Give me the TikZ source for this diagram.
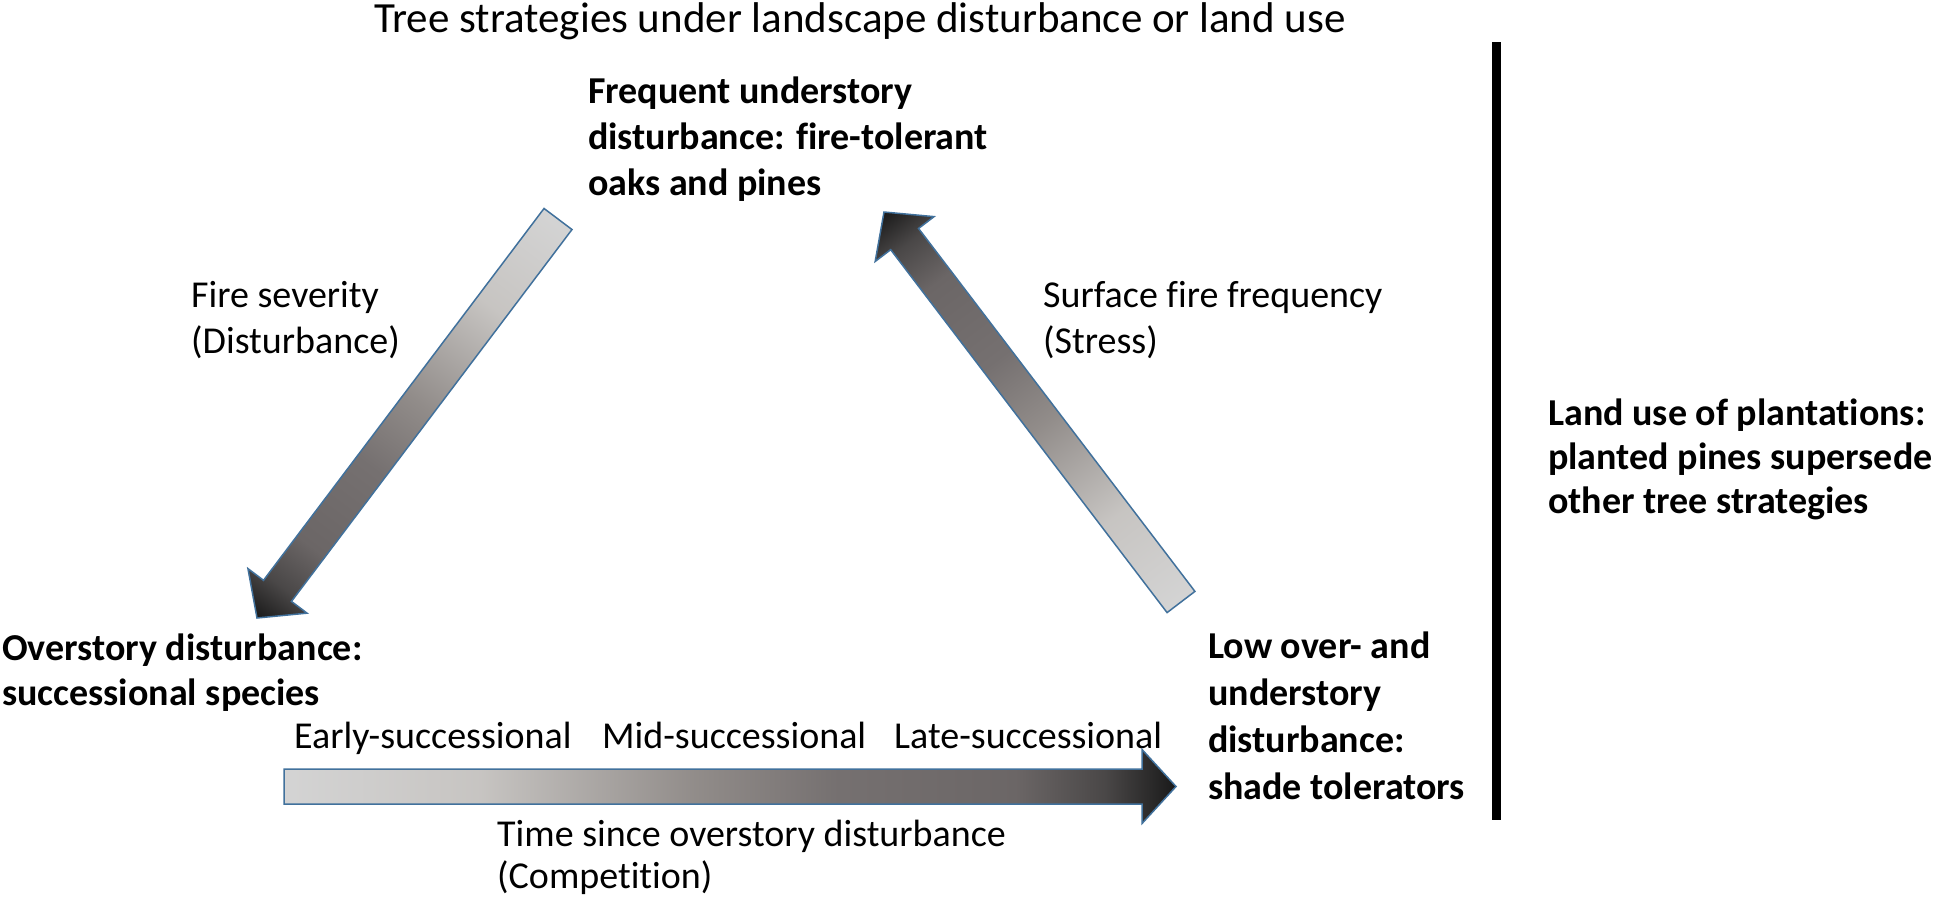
\documentclass[tikz,border=0pt]{standalone}
\usepackage{fontspec}
\setmainfont{Carlito}[Ligatures=NoCommon]
\usetikzlibrary{calc}
\definecolor{arrowblue}{HTML}{41719C}
\pgfdeclarehorizontalshading{arrowgrad}{100bp}{rgb(0bp)=(0.83,0.83,0.83); rgb(25bp)=(0.83,0.83,0.83); rgb(36bp)=(0.78,0.77,0.76); rgb(48bp)=(0.57,0.55,0.54); rgb(56bp)=(0.46,0.44,0.44); rgb(66bp)=(0.42,0.40,0.40); rgb(71bp)=(0.29,0.28,0.28); rgb(75bp)=(0.10,0.10,0.10); rgb(100bp)=(0.10,0.10,0.10)}
\newcommand\mlines[1]{\begin{tabular}[t]{@{}l@{}}#1\end{tabular}}
\makeatletter
\newcommand\blockarrow[2]{%
  \pgfpointdiff{\pgfpointanchor{#1}{center}}{\pgfpointanchor{#2}{center}}%
  \edef\ba@x{\strip@pt\pgf@x}\edef\ba@y{\strip@pt\pgf@y}%
  \pgfmathsetmacro\ba@len{veclen(\ba@x,\ba@y)}%
  \pgfmathsetmacro\ba@ang{atan2(\ba@y,\ba@x)}%
  \begin{scope}[transform canvas={shift={(#1)},rotate=\ba@ang}]
    \path[blockarrowstyle] (0pt,17.5pt) -- ({\ba@len pt-34pt},17.5pt) -- ({\ba@len pt-34pt},37pt)
      -- ({\ba@len pt},0pt) -- ({\ba@len pt-34pt},-37pt) -- ({\ba@len pt-34pt},-17.5pt)
      -- (0pt,-17.5pt) -- cycle;
  \end{scope}}
\makeatother
\tikzset{
  blockarrowstyle/.style={draw=arrowblue, line width=1.5pt, line join=miter, shade, shading=arrowgrad},
  titletext/.style={inner sep=0pt, anchor=base, font=\fontsize{43}{50}\selectfont},
  plain/.style={inner sep=0pt, anchor=base west, font=\fontsize{38}{#1}\selectfont},
  plain/.default=46,
  boldtext/.style={inner sep=0pt, anchor=base west, font=\fontsize{38}{#1}\selectfont\bfseries},
  boldtext/.default=46,
  bar/.style={line width=9pt}
}
\begin{document}
\begin{tikzpicture}[x=1pt,y=-1pt]
\useasboundingbox[fill=white] (0,0) rectangle (1946,897);
% text
\node[titletext] (title) at (860,32) {Tree strategies under landscape disturbance or land use};
\node[boldtext=46] (fire) at (588,103) {\mlines{Frequent understory\\disturbance: fire-tolerant\\oaks and pines}};
\node[boldtext=45] (over) at (2,660) {\mlines{Overstory disturbance:\\successional species}};
\node[boldtext=47] (low) at (1208,658) {\mlines{Low over- and\\understory\\disturbance:\\shade tolerators}};
\node[boldtext=44] (land) at (1548,425) {\mlines{Land use of plantations:\\planted pines supersede\\other tree strategies}};
\node[plain=46] (sev) at (191,307) {\mlines{Fire severity\\(Disturbance)}};
\node[plain=46] (surf) at (1043,307) {\mlines{Surface fire frequency\\(Stress)}};
\node[plain] (early) at (294,748) {Early-successional};
\node[plain] (mid) at (602,748) {Mid-successional};
\node[plain] (late) at (894,748) {Late-successional};
\node[plain=42] (time) at (497,846) {\mlines{Time since overstory disturbance\\(Competition)}};
% arrow end points
\coordinate (a1tail) at (558,219);
\coordinate (a1tip) at (257,618);
\coordinate (a2tail) at (1181,602);
\coordinate (a2tip) at (884,212);
\coordinate (a3tail) at (284,786.5);
\coordinate (a3tip) at (1176,786.5);
\blockarrow{a1tail}{a1tip}
\blockarrow{a2tail}{a2tip}
\blockarrow{a3tail}{a3tip}
% separator bar
\coordinate (bartop) at (1496,42);
\coordinate (barbot) at (1496,820);
\draw[bar] (bartop) -- (barbot);
\end{tikzpicture}
\end{document}
